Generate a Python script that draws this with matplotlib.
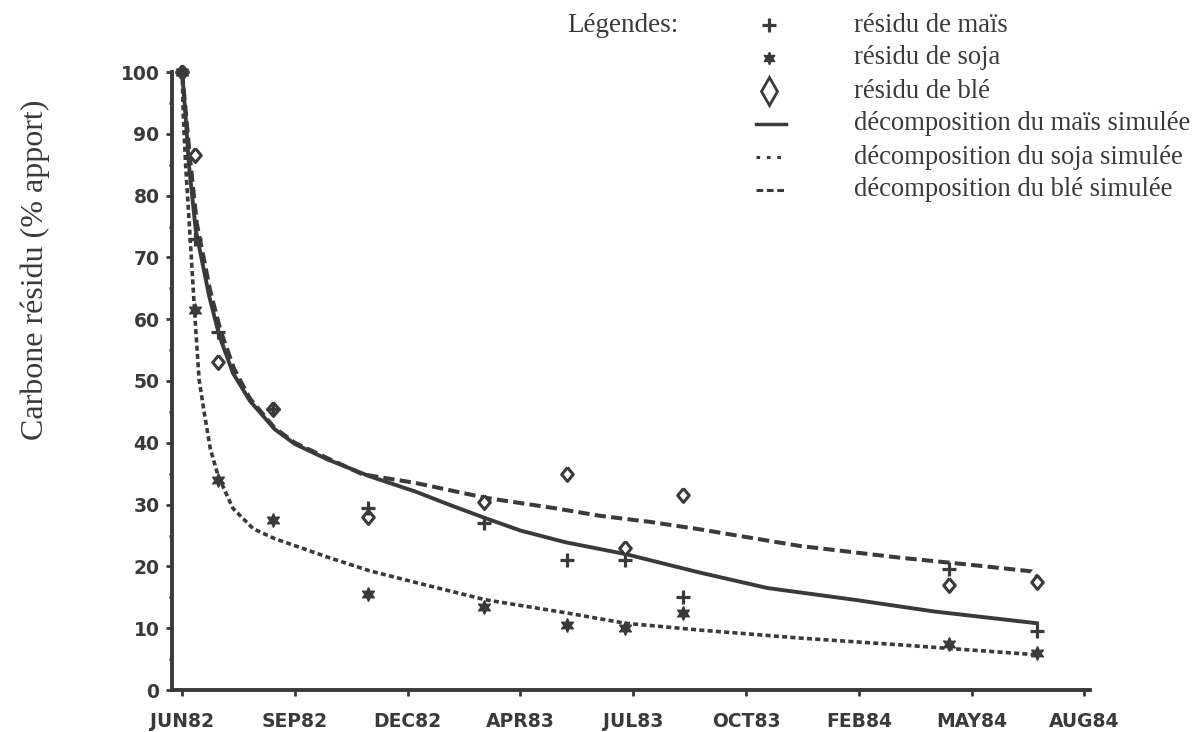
import numpy as np
import matplotlib.pyplot as plt
from matplotlib.lines import Line2D

# x positions are in tick units (0 = JUN82 ... 8 = AUG84)
tick_labels = ['JUN82', 'SEP82', 'DEC82', 'APR83', 'JUL83', 'OCT83', 'FEB84', 'MAY84', 'AUG84']

# sampling dates (measured points)
dates = [0.0, 0.11, 0.32, 0.81, 1.65, 2.68, 3.41, 3.93, 4.44, 6.80, 7.58]
mais_obs = [100, 73, 58, 45.5, 29.5, 27, 21, 21, 15, 19.5, 9.5]
soja_obs = [100, 61.5, 34, 27.5, 15.5, 13.5, 10.5, 10, 12.5, 7.5, 6]
ble_obs = [100, 86.5, 53, 45.5, 28, 30.5, 35, 23, 31.5, 17, 17.5]

# simulated decomposition curves
mais_sim_x = [0.0, 0.03, 0.06, 0.12, 0.24, 0.33, 0.45, 0.6, 0.82, 1.0, 1.29, 1.66,
              2.07, 2.38, 2.69, 3.0, 3.4, 3.93, 4.59, 5.19, 5.96, 6.67, 7.58]
mais_sim_y = [100, 93, 85, 74.5, 63.7, 57.3, 51.3, 46.8, 42.2, 39.8, 37.3, 34.6,
              32.1, 29.9, 27.8, 25.8, 23.9, 22.0, 19.0, 16.5, 14.6, 12.7, 10.8]

soja_sim_x = [0.0, 0.01, 0.03, 0.07, 0.11, 0.15, 0.19, 0.25, 0.32, 0.45, 0.63, 0.82,
              1.29, 1.66, 2.07, 2.69, 3.4, 3.93, 4.59, 5.48, 6.37, 6.97, 7.58]
soja_sim_y = [100, 93, 85.2, 73.4, 61.3, 50.3, 45.5, 39, 34.6, 29.4, 26.1, 24.5,
              21.5, 19.3, 17.4, 14.6, 12.5, 10.8, 9.7, 8.4, 7.3, 6.5, 5.7]

ble_sim_x = [0.0, 0.03, 0.07, 0.13, 0.25, 0.34, 0.46, 0.6, 0.82, 1.0, 1.29, 1.6,
             2.07, 2.69, 3.31, 3.7, 4.15, 4.59, 5.48, 6.37, 6.97, 7.53, 7.58]
ble_sim_y = [100, 94, 86, 75.5, 64.5, 58.2, 52, 47.2, 42.4, 40.0, 37.5, 34.9,
             33.5, 31.1, 29.4, 28.2, 27.2, 26.0, 23.3, 21.4, 20.3, 19.2, 18.4]

legend_labels = ['résidu de maïs', 'résidu de soja', 'résidu de blé',
                 'décomposition du maïs simulée', 'décomposition du soja simulée',
                 'décomposition du blé simulée']

ink = '#3a3a3a'
serif = ['Liberation Serif', 'DejaVu Serif']
W, H = 1204, 732
star6 = (6, 1, 0)
diamond = [(0, 1.2), (1, 0), (0, -1.2), (-1, 0), (0, 1.2)]

fig = plt.figure(figsize=(W / 100, H / 100), dpi=100)
ax = fig.add_axes([172 / W, 42 / H, 918 / W, 618 / H])

styles = {
    'mais_obs': dict(linestyle='none', marker='+', ms=10.5, mew=2.3, color=ink),
    'soja_obs': dict(linestyle='none', marker=star6, ms=10, mew=1, color=ink),
    'ble_obs': dict(linestyle='none', marker=diamond, ms=10, mew=2.2, mfc='white', color=ink),
    'mais_sim': dict(linestyle='-', lw=2.8, color=ink),
    'soja_sim': dict(linestyle=(0, (1.4, 0.9)), lw=2.6, color=ink),
    'ble_sim': dict(linestyle=(0, (2.8, 1.3)), lw=2.9, color=ink),
}

# simulated curves
ax.plot(mais_sim_x, mais_sim_y, **styles['mais_sim'])
ax.plot(soja_sim_x, soja_sim_y, **styles['soja_sim'])
ax.plot(ble_sim_x, ble_sim_y, **styles['ble_sim'])

# observed residues
ax.plot(dates, ble_obs, clip_on=False, **styles['ble_obs'])
ax.plot(dates, mais_obs, clip_on=False, **styles['mais_obs'])
ax.plot(dates, soja_obs, clip_on=False, **styles['soja_obs'])

ax.set_xlim(-0.09, 8.05)
ax.set_ylim(0, 100)
ax.set_xticks(range(len(tick_labels)))
ax.set_xticklabels(tick_labels)
ax.set_yticks(np.arange(0, 101, 10))
ax.set_yticks(np.arange(5, 100, 10), minor=True)
ax.tick_params(axis='both', which='major', length=4, width=2, color=ink,
               labelcolor=ink, labelsize=13.5)
ax.tick_params(axis='x', which='major', pad=12)
ax.tick_params(axis='y', which='major', pad=5)
ax.tick_params(axis='y', which='minor', length=2, width=2, color=ink)
for lab in ax.get_xticklabels() + ax.get_yticklabels():
    lab.set_fontweight('bold')

for side in ['top', 'right']:
    ax.spines[side].set_visible(False)
for side in ['left', 'bottom']:
    ax.spines[side].set_linewidth(2.8)
    ax.spines[side].set_color(ink)

ax.set_ylabel('Carbone résidu (% apport)', family=serif, fontsize=23, color=ink)
ax.yaxis.set_label_coords(-0.133, 0.68)

# legend drawn by hand to follow the original layout
row_y = [25 + 33 * i for i in range(6)]
fig.text(567 / W, 1 - row_y[0] / H, 'Légendes:', family=serif, fontsize=19.5,
         color=ink, va='center')
handles = [
    dict(marker='+', ms=10, mew=2.3, linestyle='none'),
    dict(marker=star6, ms=9, mew=1, linestyle='none'),
    dict(marker='d', ms=14, mew=2, mfc='white', linestyle='none'),
    dict(linestyle='-', lw=2.5),
    dict(linestyle=(0, (1.2, 2.2)), lw=2.2),
    dict(linestyle=(0, (2.2, 1.2)), lw=2.2),
]
for y, lab, hs in zip(row_y, legend_labels, handles):
    yf = 1 - y / H
    if hs.get('linestyle') == 'none':
        fig.add_artist(Line2D([769 / W], [yf], color=ink, transform=fig.transFigure, **hs))
    else:
        fig.add_artist(Line2D([756 / W, 786 / W], [yf, yf], color=ink,
                              transform=fig.transFigure, **hs))
    fig.text(854 / W, yf, lab, family=serif, fontsize=19.2, color=ink, va='center')

fig.savefig('out.png', dpi=100)
